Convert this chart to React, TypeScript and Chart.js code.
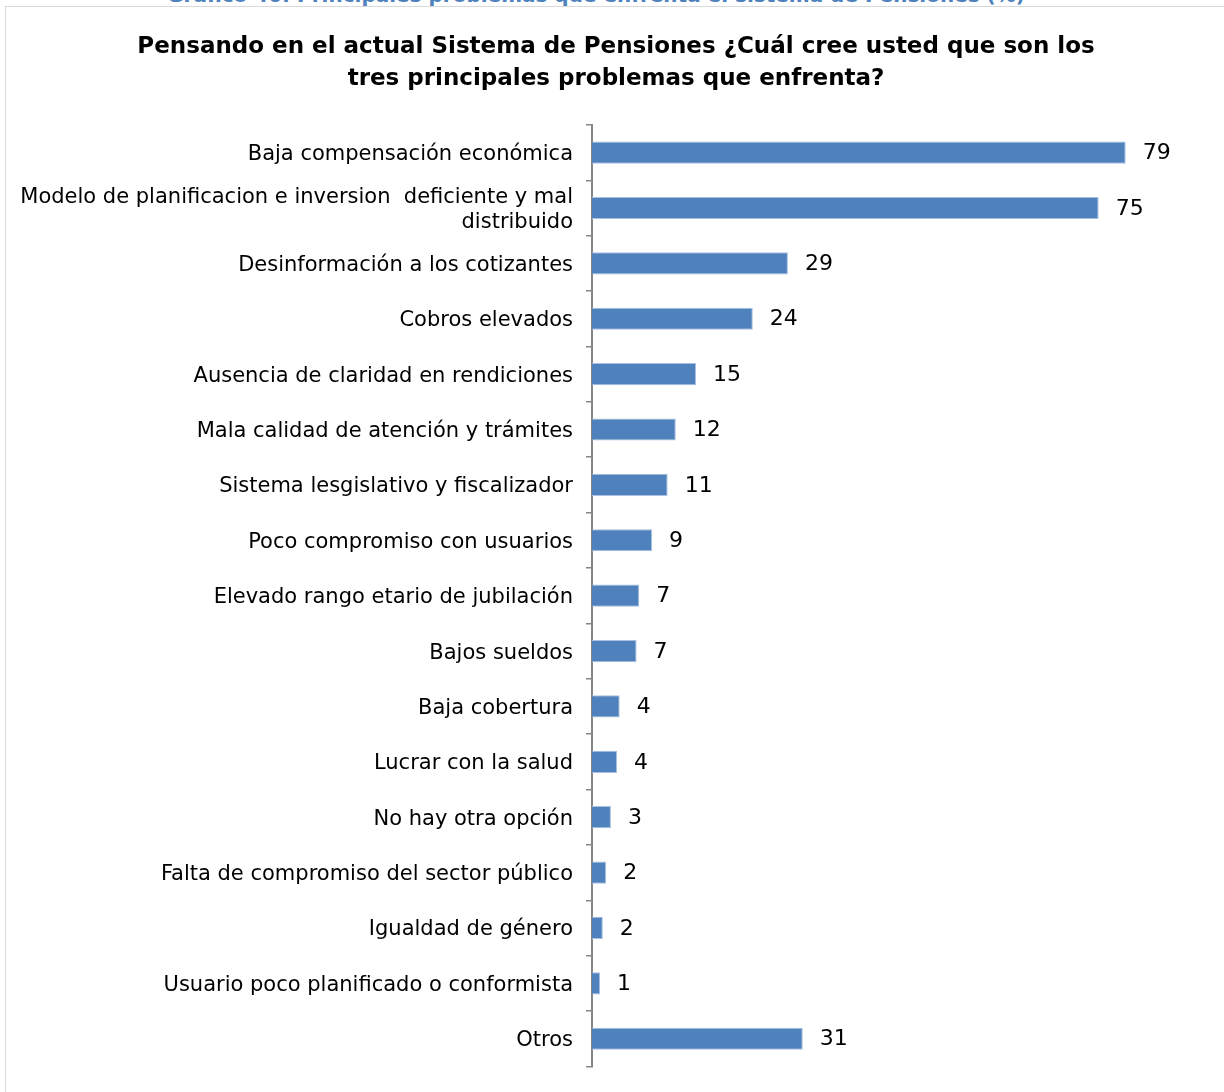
import React, { useEffect, useRef } from "react";
import { Chart, registerables } from "chart.js";

Chart.register(...registerables);

const captionText = "Gráfico 40: Principales problemas que enfrenta el sistema de Pensiones (%)";

const titleLines = [
  "Pensando en el actual Sistema de Pensiones ¿Cuál cree usted que son los",
  "tres principales problemas que enfrenta?",
];

const categories: (string | string[])[] = [
  "Baja compensación económica",
  ["Modelo de planificacion e inversion  deficiente y mal", "distribuido"],
  "Desinformación a los cotizantes",
  "Cobros elevados",
  "Ausencia de claridad en rendiciones",
  "Mala calidad de atención y trámites",
  "Sistema lesgislativo y fiscalizador",
  "Poco compromiso con usuarios",
  "Elevado rango etario de jubilación",
  "Bajos sueldos",
  "Baja cobertura",
  "Lucrar con la salud",
  "No hay otra opción",
  "Falta de compromiso del sector público",
  "Igualdad de género",
  "Usuario poco planificado o conformista",
  "Otros",
];

const values = [79, 75, 29, 23.8, 15.4, 12.4, 11.2, 8.9, 7.0, 6.6, 4.1, 3.7, 2.8, 2.1, 1.6, 1.2, 31.2];

const xMin = 0;
const xMax = 90;

const valueLabelPlugin = {
  id: "valueLabels",
  afterLayout(chart: any) {
    // let the long category label extend into the left padding without clipping
    if (chart.scales.y) chart.scales.y.left = 0;
  },
  afterDatasetsDraw(chart: any) {
    const ctx = chart.ctx;
    const meta = chart.getDatasetMeta(0);
    ctx.save();
    ctx.font = "22px 'DejaVu Sans'";
    ctx.fillStyle = "#000";
    ctx.textAlign = "left";
    ctx.textBaseline = "middle";
    meta.data.forEach((bar: any, i: number) => {
      ctx.fillText(String(Math.round(values[i])), bar.x + 17, bar.y + 1);
    });
    ctx.restore();
  },
};

export default function App() {
  const canvasRef = useRef<HTMLCanvasElement>(null);

  useEffect(() => {
    if (!canvasRef.current) return;
    const chart = new Chart(canvasRef.current, {
      type: "bar",
      data: {
        labels: categories as any,
        datasets: [
          {
            data: values,
            backgroundColor: "#4F81BD",
            borderColor: "#A7C0E0",
            borderWidth: 1,
            barPercentage: 0.4,
            categoryPercentage: 1,
          },
        ],
      },
      options: {
        indexAxis: "y",
        responsive: false,
        animation: false,
        layout: { padding: { top: 0, left: 32, right: 24, bottom: 20 } },
        plugins: {
          legend: { display: false },
          tooltip: { enabled: false },
          title: {
            display: true,
            text: titleLines,
            color: "#000",
            font: { family: "'DejaVu Sans', sans-serif", size: 23, weight: "bold", lineHeight: 1.39 },
            padding: { top: 31, bottom: 30 },
          },
        },
        scales: {
          x: { display: false, min: xMin, max: xMax },
          y: {
            afterFit: (scale: any) => {
              scale.width = 560;
            },
            grid: {
              display: true,
              drawOnChartArea: false,
              drawTicks: true,
              tickLength: 6,
              color: "#868686",
              lineWidth: 1.5,
            },
            border: { display: true, color: "#868686", width: 2 },
            ticks: {
              color: "#000",
              padding: 13,
              labelOffset: 2,
              font: { family: "'DejaVu Sans', sans-serif", size: 21, lineHeight: 1.2 },
            },
          },
        },
      },
      plugins: [valueLabelPlugin],
    });
    return () => chart.destroy();
  }, []);

  return (
    <div
      style={{
        position: "fixed",
        left: 0,
        top: 0,
        width: 1224,
        height: 1092,
        overflow: "hidden",
        background: "#fff",
      }}
    >
      <div
        style={{
          position: "absolute",
          left: 0,
          width: 1192,
          top: -15,
          textAlign: "center",
          fontFamily: "'DejaVu Sans', sans-serif",
          fontWeight: "bold",
          fontSize: 20,
          lineHeight: "20px",
          color: "#4F81BD",
          whiteSpace: "nowrap",
        }}
      >
        {captionText}
      </div>
      <div
        style={{
          position: "absolute",
          left: 5,
          top: 6,
          width: 1300,
          height: 1200,
          border: "1.5px solid #D9D9D9",
          boxSizing: "border-box",
        }}
      />
      <canvas
        ref={canvasRef}
        width={1224}
        height={1092}
        style={{ position: "absolute", left: 0, top: 0, width: 1224, height: 1092 }}
      />
    </div>
  );
}
